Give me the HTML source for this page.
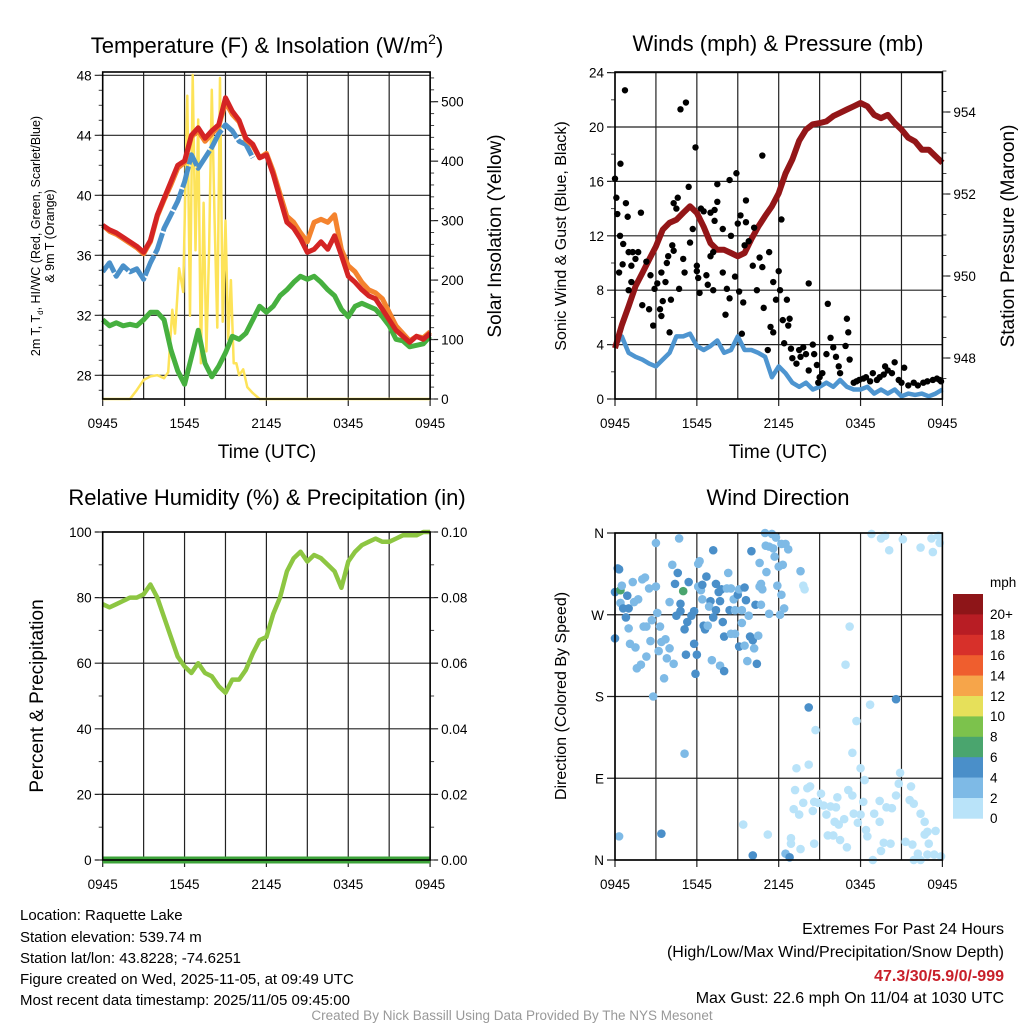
<!DOCTYPE html>
<html><head><meta charset="utf-8"><style>
html,body{margin:0;padding:0;background:#fff;}
svg{display:block;font-family:"Liberation Sans",Arial,sans-serif;}
</style></head><body>
<svg id="fig" width="1024" height="1024" viewBox="0 0 1024 1024" xmlns="http://www.w3.org/2000/svg">
<rect x="0" y="0" width="1024" height="1024" fill="#fff"/>
<!-- titles -->
<text x="267" y="53" font-size="22" text-anchor="middle">Temperature (F) &amp; Insolation (W/m<tspan font-size="14" dy="-9">2</tspan><tspan dy="9">)</tspan></text>
<text x="778" y="51" font-size="22" text-anchor="middle">Winds (mph) &amp; Pressure (mb)</text>
<text x="267" y="505" font-size="22" text-anchor="middle">Relative Humidity (%) &amp; Precipitation (in)</text>
<text x="778" y="505" font-size="22" text-anchor="middle">Wind Direction</text>
<!-- axis titles -->
<text x="267" y="458" font-size="19" text-anchor="middle">Time (UTC)</text>
<text x="778" y="458" font-size="19" text-anchor="middle">Time (UTC)</text>
<text transform="translate(40,236) rotate(-90)" font-size="12.5" text-anchor="middle">2m T, T<tspan font-size="8" dy="3">d</tspan><tspan dy="-3">, HI/WC (Red, Green, Scarlet/Blue)</tspan></text>
<text transform="translate(54,236) rotate(-90)" font-size="12.5" text-anchor="middle">&amp; 9m T (Orange)</text>
<text transform="translate(501,236) rotate(-90)" font-size="19" text-anchor="middle">Solar Insolation (Yellow)</text>
<text transform="translate(566,236) rotate(-90)" font-size="16" text-anchor="middle">Sonic Wind &amp; Gust (Blue, Black)</text>
<text transform="translate(1014,236) rotate(-90)" font-size="19" text-anchor="middle">Station Pressure (Maroon)</text>
<text transform="translate(43,696) rotate(-90)" font-size="19" text-anchor="middle">Percent &amp; Precipitation</text>
<text transform="translate(566,696) rotate(-90)" font-size="16" text-anchor="middle">Direction (Colored By Speed)</text>
<!-- footer -->
<g font-size="15">
<text x="20" y="920">Location: Raquette Lake</text>
<text x="20" y="942">Station elevation: 539.74 m</text>
<text x="20" y="963">Station lat/lon: 43.8228; -74.6251</text>
<text x="20" y="984">Figure created on Wed, 2025-11-05, at 09:49 UTC</text>
<text x="20" y="1005">Most recent data timestamp: 2025/11/05 09:45:00</text>
</g>
<g font-size="16" text-anchor="end">
<text x="1004" y="934">Extremes For Past 24 Hours</text>
<text x="1004" y="957">(High/Low/Max Wind/Precipitation/Snow Depth)</text>
<text x="1004" y="981" fill="#c8202a" font-weight="bold">47.3/30/5.9/0/-999</text>
<text x="1004" y="1003">Max Gust: 22.6 mph On 11/04 at 1030 UTC</text>
</g>
<text x="512" y="1020" font-size="13.5" fill="#999" text-anchor="middle">Created By Nick Bassill Using Data Provided By The NYS Mesonet</text>
<g id="plots"></g>
</svg>
<script>
// ---- data: times in hours after 0945 UTC ----
const hrs = [0,0.5,1,1.5,2,2.5,3,3.5,4,4.5,5,5.5,6,6.5,7,7.5,8,8.5,9,9.5,10,10.5,11,11.5,12,12.5,13,13.5,14,14.5,15,15.5,16,16.5,17,17.5,18,18.5,19,19.5,20,20.5,21,21.5,22,22.5,23,23.5,24];
const xTickLabels = ["0945","1545","2145","0345","0945"];
const tempRed = [38.0,37.7,37.5,37.2,36.9,36.6,36.2,37.0,38.7,39.8,40.9,42.0,42.3,44.0,44.5,43.8,44.3,44.7,46.5,45.6,45.0,43.8,43.4,42.5,42.7,41.4,39.8,38.2,37.8,37.1,36.2,36.4,36.9,36.4,37.3,36.0,34.6,34.2,33.7,33.3,33.1,32.4,31.7,31.0,30.6,30.2,30.6,30.4,30.8];
const temp9m = [38.0,37.6,37.4,37.1,36.8,36.5,36.1,36.9,38.6,39.7,40.7,41.8,42.2,43.9,44.3,43.6,44.1,44.6,46.2,45.4,44.9,43.7,43.3,42.5,42.8,41.6,40.1,38.6,38.2,37.5,36.9,38.2,38.4,38.2,38.7,36.4,35.3,34.9,34.2,33.7,33.5,33.1,32.2,31.3,30.8,30.3,30.6,30.5,30.9];
const windChill = [34.9,35.5,34.6,35.3,34.9,35.1,34.4,35.5,36.4,37.8,38.7,39.6,40.9,42.7,41.8,42.5,43.2,44.1,44.7,44.3,43.6,43.4,42.5,null,null,null,null,null,null,null,null,null,null,null,null,null,null,null,null,null,null,null,null,null,null,null,null,null,null];
const dewPoint = [31.7,31.3,31.5,31.3,31.4,31.3,31.7,32.2,32.2,31.7,29.7,28.3,27.4,29.2,31.0,28.8,27.9,28.6,29.5,30.6,30.4,30.8,31.7,32.6,32.2,32.6,33.3,33.7,34.2,34.6,34.4,34.6,34.2,33.7,33.3,32.4,31.9,32.6,32.8,32.6,32.4,31.9,31.3,30.4,30.3,29.9,30.0,30.1,30.6];
const solarHrs = [0,2,2.5,3,3.5,4,4.5,4.8,5.1,5.3,5.6,5.9,6.2,6.4,6.6,6.8,7.0,7.2,7.4,7.6,7.8,8.0,8.2,8.4,8.6,8.8,9.0,9.2,9.4,9.6,9.8,10.0,10.3,10.6,11,11.5,12,24];
const solar = [0,0,15,32,38,40,35,45,150,110,220,180,510,140,545,250,470,60,330,80,250,520,300,120,540,130,300,100,200,60,60,40,50,20,10,0,0,0];
const tempTicks = [28,32,36,40,44,48];
const solarTicks = [0,100,200,300,400,500];

const sonicWind = [3.9,4.6,3.4,3.1,2.9,2.6,2.4,2.9,3.4,4.6,4.6,4.8,3.9,3.6,3.9,4.3,3.4,3.6,4.6,3.6,3.6,3.4,3.1,1.6,2.4,1.9,1.2,0.9,1.2,0.7,0.9,1.2,0.9,1.4,0.9,0.7,0.7,0.9,0.4,0.7,0.4,0.7,0.2,0.4,0.3,0.4,0.2,0.4,0.7];
const pressure = [948.24,948.8,949.26,949.75,950.07,950.4,950.72,951.13,951.3,951.37,951.54,951.7,951.54,951.2,950.8,950.64,950.64,950.56,950.48,950.56,950.9,951.2,951.46,951.7,952.02,952.5,952.84,953.3,953.57,953.7,953.73,953.77,953.9,953.98,954.06,954.14,954.22,954.14,953.93,953.85,953.93,953.73,953.57,953.37,953.28,953.08,953.08,952.92,952.76];
const gustHrs = [0,0.73,0.4,0.1,0.17,0.8,0.93,0.37,0.6,0.56,0.3,1,1.3,1.7,1.5,1.2,1.2,1,1.9,2,2.3,2.6,2.5,2.8,2.9,3.1,3.3,3.4,3.4,3.5,3.7,3.8,3.9,4,4.1,4.2,4.3,4.3,4.5,4.6,4.7,4.8,5,5.1,5.2,5.4,5.5,5.7,5.9,6,6,6.1,6.2,6.3,6.5,6.7,6.8,7,7,7.2,7.2,7.3,7.5,7.3,7.5,7.9,7.9,8.1,8.2,8.4,8.4,8.5,8.8,8.9,9,9.1,9.2,9.3,9.4,9.6,9.6,9.5,9.8,10.1,10.2,10.4,10.6,10.8,10.8,10.9,11.3,11.2,11.4,11.6,11.6,11.8,12,12.1,12.2,12.3,12.4,12.6,12.7,12.8,12.9,13,13.3,13.5,13.6,13.8,14,14.2,14.2,14.5,14.6,14.8,14.9,15,15.2,15.5,15.6,15.8,16,16.2,16.4,16.5,16.9,17,17.1,17.2,17.5,17.7,17.9,18.2,18.4,18.7,18.9,19.2,19.4,19.7,19.8,20,20.3,20.5,20.8,21,21.2,21.5,21.9,22.2,22.6,22.9,23.3,23.6,23.8,23.9];
const gustVals = [16.2,22.7,17.3,14.8,13.6,14.4,13.4,12,11.4,9.9,9.3,10.8,10.8,10.8,10.3,9.8,8.6,8,13.7,6.9,10.1,9.1,6.6,5.4,8.1,8.5,6.6,6.1,9.3,7.2,8.6,10,10.5,4.9,7.3,11.3,10.9,14.4,14,14.8,8.1,21.3,10.3,9.3,21.8,15.6,11.5,12.5,18.5,9.8,9.4,8.9,7.8,14,13.8,9.1,8.4,13.7,10.5,10.8,8,13.9,14.5,13.1,15.8,12.5,9.3,6.2,8.1,16.1,7.4,12,9,16.6,12.9,7.9,13.5,4.8,7.1,14.6,13,11.3,11.6,9.8,12.6,8,10.4,17.9,9.7,6.7,10.8,3.6,5.3,4.9,8.6,7.3,9.4,8,13.2,5.8,4.1,7.3,5.4,5.9,3.7,3,2.6,3.6,3.1,3.8,3.3,8.5,2.1,4,3.3,2.5,1.2,1.6,1.9,3.3,7,4.5,3.8,3.1,2.4,1.9,3.9,5.9,4.9,2.9,1.2,1.3,1.4,1.5,1.6,1.3,1.9,1.4,1.6,1.8,2.4,2.1,1.9,2.7,1.4,1.2,2.3,1,1.2,1,1.2,1.3,1.4,1.5,1.4,1.3];
const windTicks = [0,4,8,12,16,20,24];
const pressTicks = [948,950,952,954];

const relHum = [78,77,78,79,80,80,81,84,80,74,68,62,59,57,60,57,56,53,51,55,55,58,63,67,68,75,80,88,92,94,91,93,92,90,88,83,91,94,96,97,98,97,97,98,99,99,99,100,100];
const precip = [0,0,0,0,0,0,0,0,0,0,0,0,0,0,0,0,0,0,0,0,0,0,0,0,0,0,0,0,0,0,0,0,0,0,0,0,0,0,0,0,0,0,0,0,0,0,0,0,0];
const rhTicks = [0,20,40,60,80,100];
const precipTickLabels = ["0.00","0.02","0.04","0.06","0.08","0.10"];

const dirHrs = [0.2,0.3,0,0.4,0.5,0.9,0.4,0.6,1,0.8,0,1,1.4,1.3,1.7,2,2.2,2.5,3,3,4.7,1.1,1.5,1.6,1.9,2.3,2.6,2.7,2.1,2.3,3.2,3.3,3.6,2.8,3.1,3.4,3.7,3.8,4,4.3,4,4.2,4.4,4.6,4.5,4.8,4.8,5,5.1,5.3,5.4,5.6,5.8,5.8,5.2,6,5.9,5.1,6.1,6.2,6.1,6.3,6.4,6.4,6.7,7,6.9,6.5,6.6,6.8,7.2,7.2,7.4,7.4,7.6,7.7,7.8,7.9,8,7.1,7.7,8,8.3,8.2,8.5,8.7,8.4,8.8,8.5,8.8,9,9.1,9.1,9.3,9.5,9.5,9.6,9.3,9.7,9.9,9.8,10,10.1,10.2,10.3,10.4,10.5,10.6,10.7,10.8,10.7,10.6,11.1,11,11.05,11.3,11.5,11.7,11.6,11.8,11.3,11.9,12,12.1,12.2,12.3,12.4,12.2,12.5,12.7,13.6,13.8,13.9,11.2,9.4,10.1,3.4,0.3,12.5,12.8,14.2,14.7,13.3,14.2,13.2,14.1,14.3,14.6,15.1,14.9,15.3,15.5,16.1,16.4,16.8,16.2,16.3,17.1,17.4,17.5,17.8,18,18.2,18,18.3,17.4,17.7,16.9,17.2,18.7,20.6,19,19.4,19.4,19.9,20.3,20.6,20.8,20.9,21.7,21.6,21.9,22.4,22.7,22.9,22.7,23,23.5,21.8,21.3,20.2,19.7,18.9,22.2,22.9,23.4,23.9,21.9,22.4,15.6,16,16.5,17,18.5,18.4,14.6,13.6,12.9,12.9,13.1,13.5,13.8,14.5,15.8,19.5,18.8,19.5,19.8,20.1,21.1,22.4,23.2,23.3,23.7,23.8];
const dirDeg = [321,320,295,297,302,291,283,277,277,267,244,255,284,306,287,309,311,299,301,349,354,238,234,211,215,224,241,264,257,257,230,257,200,180,272,240,243,222,233,216,284,325,304,316,269,282,274,296,254,262,306,269,274,238,226,226,205,117,326,329,301,297,303,287,312,285,279,258,254,258,341,267,275,304,295,285,298,262,246,220,214,208,316,299,299,287,275,275,249,249,292,235,298,275,236,300,286,261,219,246,269,340,242,233,281,216,247,327,304,298,281,301,317,360,346,345,359,334,343,355,271,302,323,270,292,325,277,348,348,342,318,302,298,28,39,5,29,26,7,3,168,143,101,105,77,79,81,64,73,63,60,50,42,39,45,58,69,77,71,51,41,50,64,101,88,118,153,215,257,171,177,51,42,65,58,57,71,84,96,81,66,62,51,42,31,28,18,32,17,20,18,19,0,7,6,6,4,0,0,27,27,22,14,26,33,18,12,18,24,56,50,63,54,59,10,359,354,357,341,353,344,354,339,357,349];
const dirSpeed = [5,5,5,7,3,5,3,5,5,5,5,3,3,3,3,3,3,3,3,3,3,3,3,3,3,3,3,3,3,3,3,3,3,3,3,3,3,3,3,3,3,3,5,5,5,5,5,7,5,5,5,5,5,5,5,5,5,3,3,3,3,3,5,3,5,5,3,5,5,3,5,5,5,5,5,5,5,5,5,3,3,5,3,3,3,3,5,3,3,3,5,5,3,3,3,5,5,3,3,5,3,5,5,3,5,5,3,3,3,3,3,3,3,3,3,3,3,3,3,3,3,3,3,3,3,3,3,3,3,3,3,1,1,1,1,5,5,3,3,5,5,1,1,1,1,1,1,1,1,1,1,1,1,1,1,1,1,1,1,1,1,1,1,1,1,1,1,1,1,1,5,1,1,1,1,1,1,1,1,1,1,1,1,1,1,1,1,1,1,1,1,1,1,1,1,1,1,1,1,1,1,1,1,1,1,1,1,1,1,1,1,1,1,1,1,1,1,1,1,1,1,1,1,1,1,1,1,1,1,1,1,1,1,1];
const dirTickLabels = ["N","E","S","W","N"];
const speedBins = ["0","2","4","6","8","10","12","14","16","18","20+"];
const speedColors = ["#b9e3f9","#7ebae6","#4a8fc9","#4aa56e","#7cc24c","#e6e05a","#f6a54a","#ef5e2e","#d7302a","#b81d24","#8e1518"];

// ---- helpers ----
const NS = "http://www.w3.org/2000/svg";
const root = document.getElementById("plots");
function mk(tag, attrs, parent) {
  const e = document.createElementNS(NS, tag);
  for (const k in attrs) e.setAttribute(k, attrs[k]);
  (parent || root).appendChild(e);
  return e;
}
function pathFrom(xs, ys, xf, yf) {
  let d = "", pen = false;
  for (let i = 0; i < xs.length; i++) {
    if (ys[i] === null) { pen = false; continue; }
    d += (pen ? "L" : "M") + xf(xs[i]).toFixed(1) + "," + yf(ys[i]).toFixed(1);
    pen = true;
  }
  return d;
}
const HPX = 327.4 / 24;
function panelX(x0) { return t => x0 + t * HPX; }

function frame(x0, y0, y1, name) {
  const g = mk("g", {});
  
  
  for (let h = 0; h <= 24; h += 3) {
    const ln = mk("line", {x1: x0 + h * HPX, x2: x0 + h * HPX, y1: y0, y2: y1 + (h % 6 === 0 ? 7 : 0), stroke: "#222", "stroke-width": 1.2}, g);
    
    
  }
  for (let i = 0; i < xTickLabels.length; i++) {
    const tx = mk("text", {x: x0 + i * 6 * HPX, y: y1 + 29, "font-size": 13.5, "text-anchor": "middle"}, g);
    tx.textContent = xTickLabels[i];
    
    
  }
  return g;
}
function hGrid(x0, vals, yf, labels, side, name, minorStep, vmin, vmax) {
  const g = mk("g", {});
  
  
  const x1 = x0 + 327.4;
  vals.forEach((v, i) => {
    const y = yf(v);
    const ln = mk("line", {x1: side === "left" ? x0 - 8 : x0, x2: side === "left" ? x1 : x1 + 8, y1: y, y2: y, stroke: "#222", "stroke-width": 1.2}, g);
    
    
    const tx = mk("text", {x: side === "left" ? x0 - 11 : x1 + 11, y: y + 5, "font-size": 13.5, "text-anchor": side === "left" ? "end" : "start"}, g);
    tx.textContent = labels[i];
    
    
  });
  if (minorStep) {
    for (let v = vmin; v <= vmax + 1e-9; v += minorStep) {
      const y = yf(v);
      const m = mk("line", {x1: side === "left" ? x0 - 4 : x1, x2: side === "left" ? x0 : x1 + 4, y1: y, y2: y, stroke: "#444", "stroke-width": 1}, g);
      
      
    }
  }
}
function rightTicks(x1, vals, yf, labels, name, minorStep, vmin, vmax) {
  const g = mk("g", {});
  
  
  vals.forEach((v, i) => {
    const y = yf(v);
    const ln = mk("line", {x1: x1, x2: x1 + 8, y1: y, y2: y, stroke: "#222", "stroke-width": 1.2}, g);
    
    
    const tx = mk("text", {x: x1 + 11, y: y + 5, "font-size": 13.5}, g);
    tx.textContent = labels[i];
    
    
  });
  for (let v = vmin; v <= vmax + 1e-9; v += minorStep) {
    const m = mk("line", {x1: x1, x2: x1 + 4, y1: yf(v), y2: yf(v), stroke: "#444", "stroke-width": 1}, g);
    
    
  }
}
function border(x0, y0, y1, name) {
  const r = mk("rect", {x: x0, y: y0, width: 327.4, height: y1 - y0, fill: "none", stroke: "#000", "stroke-width": 1.6});
  
  
}

// ---- Panel 1: temperature ----
const x1f = panelX(102.7);
const yT = v => 75.3 + (48 - v) * 15;
const yS = v => 399 - v * 0.5946;
frame(102.7, 72, 399, "temperature");
hGrid(102.7, tempTicks, yT, tempTicks.map(String), "left", "temperature-y-axis", 1, 27, 48);
rightTicks(430.1, solarTicks, yS, solarTicks.map(String), "solar-y-axis", 20, 0, 540);
let e;
e = mk("path", {d: pathFrom(solarHrs, solar, x1f, yS), fill: "none", stroke: "#fde359", "stroke-width": 2.5, "stroke-linejoin": "round"});


e = mk("path", {d: pathFrom(hrs, dewPoint, x1f, yT), fill: "none", stroke: "#46b03f", "stroke-width": 5, "stroke-linejoin": "round"});


e = mk("path", {d: pathFrom(hrs, windChill, x1f, yT), fill: "none", stroke: "#4a90c9", "stroke-width": 5, "stroke-linejoin": "round", "stroke-dasharray": "22 2"});


e = mk("path", {d: pathFrom(hrs, temp9m, x1f, yT), fill: "none", stroke: "#f4832e", "stroke-width": 5, "stroke-linejoin": "round"});


e = mk("path", {d: pathFrom(hrs, tempRed, x1f, yT), fill: "none", stroke: "#d42424", "stroke-width": 5, "stroke-linejoin": "round"});


border(102.7, 72, 399, "temperature-plot-frame");

// ---- Panel 2: winds ----
const x2f = panelX(615);
const yW = v => 399 - v * 13.6;
const yP = v => 358 - (v - 948) * 41;
frame(615, 72, 399, "winds");
hGrid(615, windTicks, yW, windTicks.map(String), "left", "wind-y-axis", 2, 0, 24);
rightTicks(942.4, pressTicks, yP, pressTicks.map(String), "pressure-y-axis", 0.5, 947.5, 955);
e = mk("path", {d: pathFrom(hrs, sonicWind, x2f, yW), fill: "none", stroke: "#4e95d0", "stroke-width": 4.5, "stroke-linejoin": "round"});


e = mk("path", {d: pathFrom(hrs, pressure, x2f, yP), fill: "none", stroke: "#931618", "stroke-width": 6, "stroke-linejoin": "round"});


const gg = mk("g", {});


for (let i = 0; i < gustHrs.length; i++) {
  const c = mk("circle", {cx: x2f(gustHrs[i]), cy: yW(gustVals[i]), r: 3.2, fill: "#000"}, gg);
  
  
}
border(615, 72, 399, "winds-plot-frame");

// ---- Panel 3: humidity ----
const yRH = v => 860 - v * 3.28;
const yPr = v => 860 - v * 3280;
frame(102.7, 532, 860, "humidity");
hGrid(102.7, rhTicks, yRH, rhTicks.map(String), "left", "humidity-y-axis", 10, 0, 100);
rightTicks(430.1, rhTicks, yRH, precipTickLabels, "precip-y-axis", 10, 0, 100);
e = mk("path", {d: pathFrom(hrs, relHum, x1f, yRH), fill: "none", stroke: "#8dc642", "stroke-width": 4.5, "stroke-linejoin": "round"});


e = mk("path", {d: pathFrom(hrs, precip, x1f, yPr), fill: "none", stroke: "#3da33a", "stroke-width": 7});


border(102.7, 532, 860, "humidity-plot-frame");

// ---- Panel 4: wind direction ----
const yD = d => 860 - d * (327 / 360);
frame(615, 533, 860, "direction");
hGrid(615, [0, 90, 180, 270, 360], yD, dirTickLabels, "left", "direction-y-axis", 0, 0, 0);
const dg = mk("g", {});


for (let i = 0; i < dirHrs.length; i++) {
  const bin = Math.min(10, Math.floor(dirSpeed[i] / 2));
  const c = mk("circle", {cx: x2f(dirHrs[i]), cy: yD(dirDeg[i]), r: 4.3, fill: speedColors[bin]}, dg);
  
  
}
border(615, 533, 860, "direction-plot-frame");

// colorbar
const cb = mk("g", {});


const cbTop = 594, cbH = 20.4;
for (let i = 0; i < speedColors.length; i++) {
  const idx = speedColors.length - 1 - i;
  const r = mk("rect", {x: 953, y: cbTop + i * cbH, width: 30, height: cbH + 0.3, fill: speedColors[idx]}, cb);
  
  
  const t = mk("text", {x: 990, y: cbTop + i * cbH + cbH / 2 + 15, "font-size": 13.5}, cb);
  t.textContent = speedBins[idx];
  
  
}
const mph = mk("text", {x: 990, y: 587, "font-size": 13.5}, cb);
mph.textContent = "mph";


</script>
</body></html>
